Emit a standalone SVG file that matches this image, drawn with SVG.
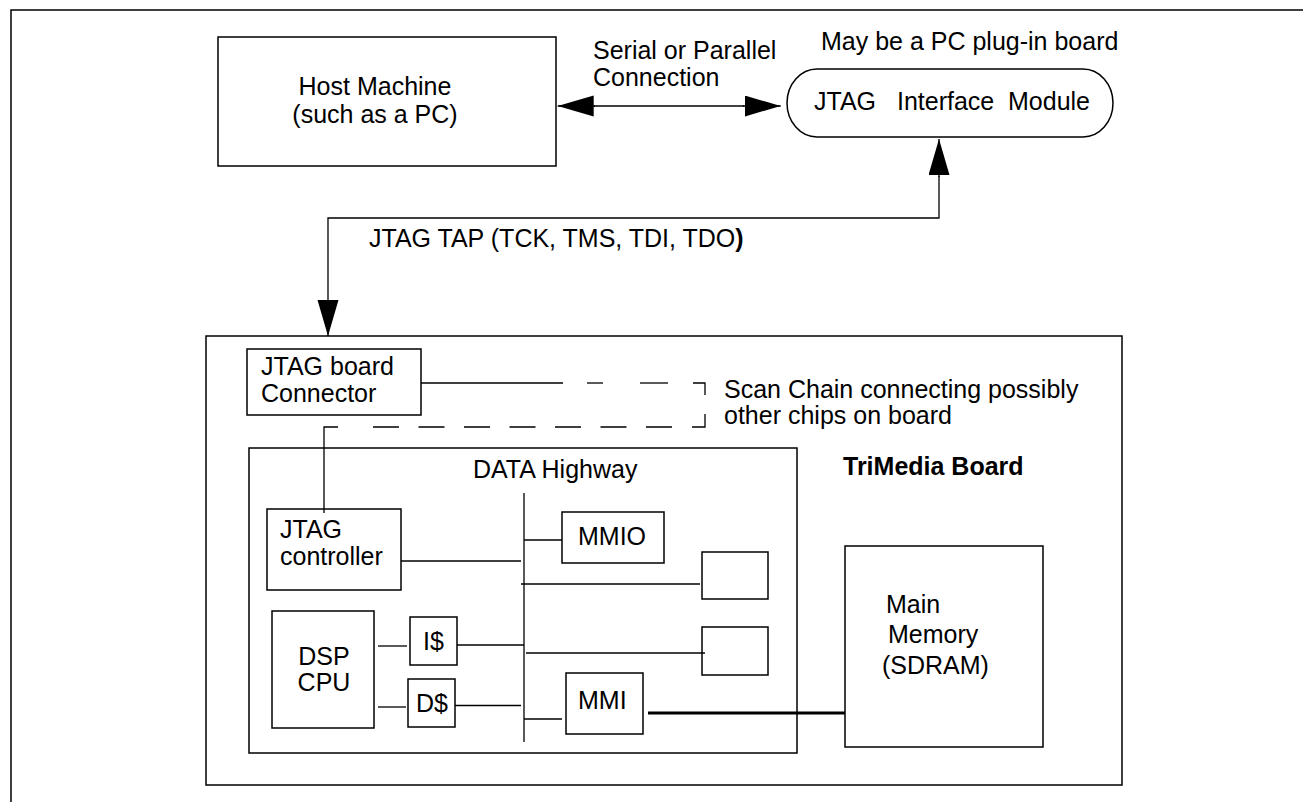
<svg xmlns="http://www.w3.org/2000/svg" width="1303" height="802" viewBox="0 0 1303 802">
<style>
.t{font-family:"Liberation Sans",Arial,Helvetica,sans-serif;font-size:25px;fill:#000}
.b{font-weight:bold}
.m{text-anchor:middle}
.box{fill:none;stroke:#000;stroke-width:1.5}
.ln{fill:none;stroke:#000;stroke-width:1.3}
.dash{fill:none;stroke:#000;stroke-width:1.3}
</style>
<defs>
<marker id="arr" markerUnits="userSpaceOnUse" markerWidth="37" markerHeight="22" refX="36" refY="10.5" orient="auto-start-reverse">
<path d="M0,0 L36,10.5 L0,21 z" fill="#000"/>
</marker>
</defs>
<rect width="1303" height="802" fill="#fff"/>
<path id="frame" d="M11,802 V10 H1303" class="box"/>

<g id="host">
<rect x="218" y="37" width="338" height="129" class="box"/>
<text class="t m" x="375" y="95">Host Machine</text>
<text class="t m" x="375" y="123">(such as a PC)</text>
</g>

<g id="jtag-module">
<rect x="787" y="69" width="326" height="68" rx="30" ry="34" class="box"/>
<text class="t" x="814" y="110">JTAG</text>
<text class="t" x="897" y="110">Interface</text>
<text class="t" x="1008" y="110">Module</text>
<text class="t" x="821" y="50">May be a PC plug-in board</text>
</g>

<g id="labels">
<text class="t" x="593" y="59">Serial or Parallel</text>
<text class="t" x="593" y="85.5">Connection</text>
<text class="t" x="369" y="246.7">JTAG TAP (TCK, TMS, TDI, TDO<tspan class="b">)</tspan></text>
<text class="t" x="724" y="398">Scan Chain connecting possibly</text>
<text class="t" x="724" y="424">other chips on board</text>
</g>

<g id="trimedia-board">
<rect x="206" y="336" width="916" height="449" class="box"/>
<text class="t b" x="843" y="475">TriMedia Board</text>
</g>

<g id="jtag-connector">
<rect x="247" y="349" width="174" height="66" class="box"/>
<text class="t" x="261" y="375">JTAG board</text>
<text class="t" x="261" y="401.7">Connector</text>
</g>

<g id="data-highway">
<rect x="249" y="448" width="548" height="305" class="box"/>
<text class="t" x="473" y="478">DATA Highway</text>
</g>

<g id="jtag-controller">
<rect x="267" y="509" width="134" height="81" class="box"/>
<text class="t" x="280" y="538">JTAG</text>
<text class="t" x="280" y="565">controller</text>
</g>

<g id="mmio">
<rect x="562" y="512" width="102" height="51" class="box"/>
<text class="t" x="578" y="545">MMIO</text>
</g>

<g id="box-a">
<rect x="702" y="552" width="66" height="47" class="box"/>
</g>
<g id="box-b">
<rect x="702" y="627" width="66" height="48" class="box"/>
</g>

<g id="dsp">
<rect x="272" y="611" width="102" height="117" class="box"/>
<text class="t m" x="324" y="665">DSP</text>
<text class="t m" x="324" y="691">CPU</text>
</g>

<g id="icache">
<rect x="410" y="617" width="47" height="48" class="box"/>
<text class="t m" x="433.5" y="650">I$</text>
</g>

<g id="dcache">
<rect x="408" y="679" width="47" height="48" class="box"/>
<text class="t m" x="432" y="712">D$</text>
</g>

<g id="mmi">
<rect x="566" y="673" width="77" height="61" class="box"/>
<text class="t" x="578" y="709">MMI</text>
</g>

<g id="main-memory">
<rect x="845" y="546" width="198" height="201" class="box"/>
<text class="t" x="886" y="613">Main</text>
<text class="t" x="888" y="643">Memory</text>
<text class="t" x="882" y="674">(SDRAM)</text>
</g>

<g id="connectors">
<line x1="594" y1="106" x2="744" y2="106" class="ln"/>
<line x1="595" y1="106" x2="557.7" y2="106" class="ln" marker-end="url(#arr)"/>
<line x1="743" y1="106" x2="780.7" y2="106" class="ln" marker-end="url(#arr)"/>
<path d="M328,300 V218 H939 V176" class="ln"/>
<line x1="328" y1="300" x2="328" y2="336" class="ln" marker-end="url(#arr)"/>
<line x1="939" y1="177" x2="939" y2="139" class="ln" marker-end="url(#arr)"/>

<line x1="421" y1="383" x2="563" y2="383" class="ln"/>
<line x1="587" y1="383" x2="603" y2="383" class="dash"/>
<line x1="640" y1="383" x2="668" y2="383" class="dash"/>
<path d="M693,383 H705 V395" class="dash"/>

<path d="M324,513 V427 H338" class="ln"/>
<line x1="373" y1="427" x2="672" y2="427" class="dash" stroke-dasharray="26 19.5"/>
<path d="M692,427 H705 V414" class="dash"/>

<line x1="524" y1="493" x2="524" y2="742" class="ln" stroke-width="1.6"/>
<line x1="401" y1="561" x2="521" y2="561" class="ln"/>
<line x1="524" y1="540" x2="562" y2="540" class="ln"/>
<line x1="521" y1="584" x2="700" y2="584" class="ln"/>
<line x1="526" y1="653" x2="705" y2="653" class="ln"/>
<line x1="378" y1="646" x2="407" y2="646" class="ln"/>
<line x1="457" y1="645" x2="524" y2="645" class="ln"/>
<line x1="378" y1="707" x2="406" y2="707" class="ln"/>
<line x1="455" y1="705.5" x2="521" y2="705.5" class="ln"/>
<line x1="524" y1="719" x2="562" y2="719" class="ln"/>
<line x1="648" y1="713" x2="845" y2="713" stroke="#000" stroke-width="3"/>
</g>
</svg>
